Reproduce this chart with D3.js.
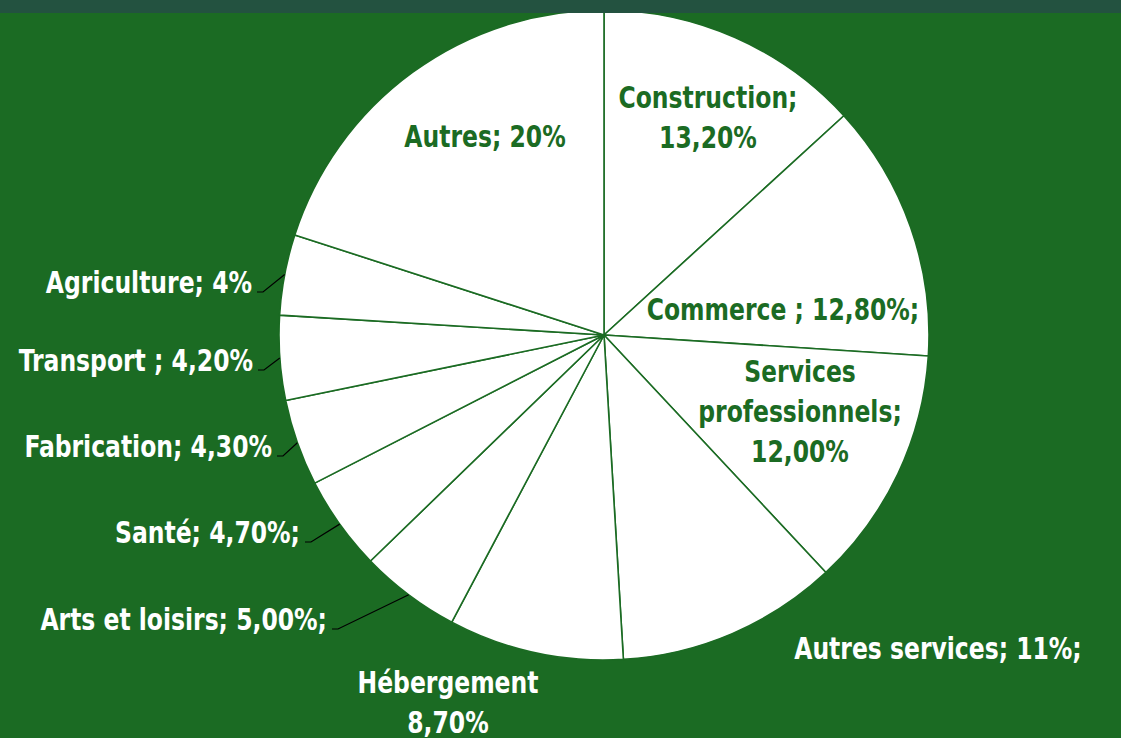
<!DOCTYPE html>
<html>
<head>
<meta charset="utf-8">
<script src="https://cdn.jsdelivr.net/npm/d3@7"></script>
<style>
    html, body { margin: 0; padding: 0; background: #1b6b23; }
    svg { display: block; }
    text { font-family: "Liberation Sans Narrow", "DejaVu Sans Condensed", "Roboto", sans-serif; font-weight: bold; }
</style>
</head>
<body>
<svg id="chart" width="1121" height="738"></svg>
<script>
var categories = ["Construction", "Commerce", "Services professionnels", "Autres services", "Hébergement",
    "Arts et loisirs", "Santé", "Fabrication", "Transport", "Agriculture", "Autres"];
var values = [13.2, 12.8, 12.0, 11, 8.7, 5.0, 4.7, 4.3, 4.2, 4, 20];
var labels = [
    ["Construction;", "13,20%"],
    ["Commerce ; 12,80%;"],
    ["Services", "professionnels;", "12,00%"],
    ["Autres services; 11%;"],
    ["Hébergement", "8,70%"],
    ["Arts et loisirs; 5,00%;"],
    ["Santé; 4,70%;"],
    ["Fabrication; 4,30%"],
    ["Transport ; 4,20%"],
    ["Agriculture; 4%"],
    ["Autres; 20%"]
];

// where each label sits: x, first baseline, anchor, inside the pie or not, leader line
var labelLayout = [
    { x: 708, y: 108, anchor: "middle", inside: true },
    { x: 783, y: 320, anchor: "middle", inside: true },
    { x: 800, y: 382, anchor: "middle", inside: true },
    { x: 938, y: 659, anchor: "middle", inside: false },
    { x: 448, y: 693, anchor: "middle", inside: false },
    { x: 327, y: 630, anchor: "end", inside: false, leader: true },
    { x: 300, y: 543, anchor: "end", inside: false, leader: true },
    { x: 272, y: 457, anchor: "end", inside: false, leader: true },
    { x: 253, y: 371, anchor: "end", inside: false, leader: true },
    { x: 252, y: 293, anchor: "end", inside: false, leader: true },
    { x: 485, y: 147, anchor: "middle", inside: true }
];

var green = "#1b6b23";

var svg = d3.select("#chart"),
    width = +svg.attr("width"),
    height = +svg.attr("height"),
    cx = 604, cy = 335, radius = 325;

svg.append("rect")
    .attr("width", width)
    .attr("height", height)
    .attr("fill", green);

var d = categories.map(function (c, i) { return { name: c, value: values[i], label: labels[i], pos: labelLayout[i] }; });

var pie = d3.pie().sort(null).value(function (d) { return d.value; });
var arc = d3.arc().innerRadius(0).outerRadius(radius);
var arcs = pie(d);

var g = svg.append("g")
    .attr("transform", "translate(" + cx + "," + cy + ")");

g.selectAll(".slice")
    .data(arcs)
    .enter().append("path")
    .attr("class", "slice")
    .attr("d", arc)
    .attr("fill", "#ffffff")
    .attr("stroke", green)
    .attr("stroke-width", 1.6)
    .attr("stroke-linejoin", "round");

// leader lines: short flat bit after the text, then to the edge of the slice
var edge = d3.arc().innerRadius(radius).outerRadius(radius);
svg.selectAll(".leader")
    .data(arcs.filter(function (a) { return a.data.pos.leader; }))
    .enter().append("polyline")
    .attr("class", "leader")
    .attr("fill", "none")
    .attr("stroke", "#000000")
    .attr("stroke-width", 1.2)
    .attr("points", function (a) {
        var p = edge.centroid(a);
        var x0 = a.data.pos.x + 5, y0 = a.data.pos.y - 1;
        return [[x0, y0], [x0 + 6, y0], [cx + p[0], cy + p[1]]].join(" ");
    });

// the font on hand is wider than the original narrow one, so squeeze it a bit
var lbl = svg.selectAll(".label")
    .data(arcs)
    .enter().append("text")
    .attr("class", "label")
    .attr("transform", function (a) { return "translate(" + a.data.pos.x + "," + a.data.pos.y + ") scale(0.87,1)"; })
    .attr("text-anchor", function (a) { return a.data.pos.anchor; })
    .attr("fill", function (a) { return a.data.pos.inside ? green : "#ffffff"; })
    .style("font-size", "30px");

lbl.selectAll("tspan")
    .data(function (a) { return a.data.label.map(function (t, i) { return { t: t, i: i }; }); })
    .enter().append("tspan")
    .attr("x", 0)
    .attr("y", function (s) { return s.i * 40; })
    .text(function (s) { return s.t; });

// dark strip across the top
svg.append("rect")
    .attr("width", width)
    .attr("height", 13)
    .attr("fill", "#235240");
</script>
</body>
</html>
